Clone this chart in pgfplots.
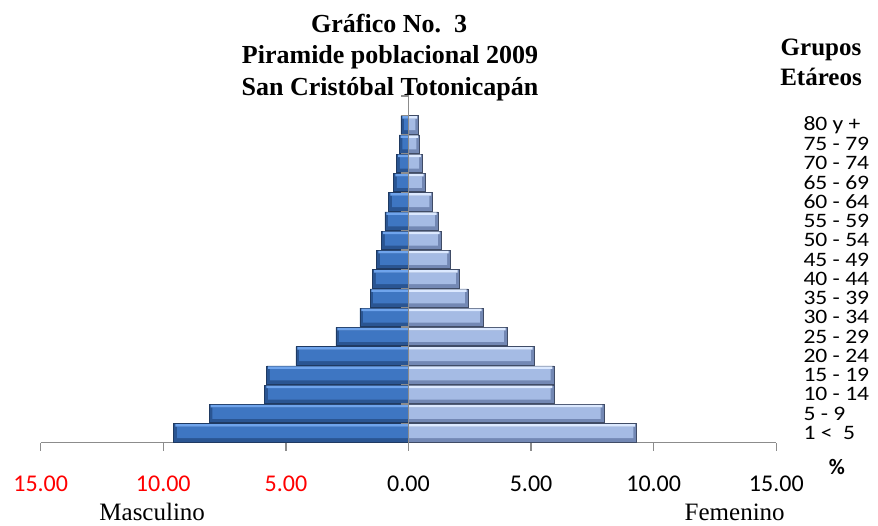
\documentclass[border=0pt]{standalone}
\usepackage{fontspec}
\usepackage{pgfplots}
\usepackage{pgfplotstable}
\pgfplotsset{compat=1.18}
\setmainfont{Liberation Serif}
\newfontfamily\carlito{Carlito}
\newfontfamily\carlitow[FakeStretch=1.15]{Carlito}
\definecolor{mtop}{HTML}{6FA4EC}
\definecolor{mface}{HTML}{3E76C2}
\definecolor{mbot}{HTML}{2A5592}
\definecolor{mborder}{HTML}{1F3A62}
\definecolor{ftop}{HTML}{DCE9FF}
\definecolor{fface}{HTML}{A5BBE4}
\definecolor{fbot}{HTML}{7388B4}
\definecolor{fborder}{HTML}{404C66}
\definecolor{axgray}{HTML}{8C8C8C}
\pgfplotstableread{
y m f
0.5 -9.57 9.30
1.5 -8.13 7.97
2.5 -5.86 5.93
3.5 -5.78 5.93
4.5 -4.59 5.12
5.5 -2.96 4.02
6.5 -1.98 3.04
7.5 -1.57 2.43
8.5 -1.46 2.06
9.5 -1.29 1.70
10.5 -1.09 1.33
11.5 -0.96 1.21
12.5 -0.80 0.98
13.5 -0.60 0.68
14.5 -0.48 0.56
15.5 -0.38 0.45
16.5 -0.31 0.41
}\pyr
\begin{document}
\begin{tikzpicture}
\path[use as bounding box] (-40.7pt,-82.5pt) rectangle (837.3pt,442.5pt);
\begin{axis}[
  at={(0pt,0pt)}, anchor=south west,
  scale only axis, width=735.6pt, height=346.5pt,
  xmin=-15, xmax=15, ymin=0, ymax=18,
  axis x line=bottom, axis y line=right,
  axis line style={-},
  x axis line style={axgray, line width=1.3pt},
  y axis line style={draw=none},
  xtick={-15,-10,-5,0,5,10,15},
  xticklabels={\textcolor{red}{15.00},\textcolor{red}{10.00},\textcolor{red}{5.00},0.00,5.00,10.00,15.00},
  xtick style={axgray, line width=1.3pt},
  tick align=outside, major tick length=8pt,
  xticklabel style={font=\carlito\fontsize{24}{24}\selectfont, anchor=base, yshift=-41pt},
  ytick={0.5,1.5,...,16.5},
  yticklabels={1 <\ \ 5,5 - 9,10 - 14,15 - 19,20 - 24,25 - 29,30 - 34,35 - 39,40 - 44,45 - 49,50 - 54,55 - 59,60 - 64,65 - 69,70 - 74,75 - 79,80 y +},
  ytick style={draw=none},
  yticklabel style={font=\carlitow\fontsize{20.5}{20.5}\selectfont, anchor=west, inner sep=0pt, xshift=19pt},
  clip=false,
  every axis plot/.append style={xbar, bar shift=0pt},
]
% male: base, face, top bevel
\addplot[bar width=0.95, fill=mbot, draw=mborder, line width=0.8pt] table[x=m, y=y] {\pyr};
\addplot[bar width=0.60, bar shift=0.03, fill=mface, draw=none] table[x expr=\thisrow{m}+0.13, y=y] {\pyr};
\addplot[bar width=0.13, bar shift=0.395, fill=mtop, draw=none] table[x expr=\thisrow{m}+0.06, y=y] {\pyr};
% female: base, face, top bevel
\addplot[bar width=0.95, fill=fbot, draw=fborder, line width=0.8pt] table[x=f, y=y] {\pyr};
\addplot[bar width=0.60, bar shift=0.03, fill=fface, draw=none] table[x expr=\thisrow{f}-0.13, y=y] {\pyr};
\addplot[bar width=0.13, bar shift=0.395, fill=ftop, draw=none] table[x expr=\thisrow{f}-0.06, y=y] {\pyr};
\draw[axgray, line width=1.6pt] (axis cs:0,0) -- (axis cs:0,18);
\pgfplotsinvokeforeach{1,...,18}{\draw[axgray, line width=1.3pt] (axis cs:0,#1) -- ++(-8pt,0pt);}
\end{axis}
\begin{scope}[every node/.style={inner sep=0pt}]
\node[anchor=base, font=\bfseries\fontsize{26}{31.5}\selectfont] at (348.5pt,409.5pt) {Gráfico No.\ \ 3};
\node[anchor=base, font=\bfseries\fontsize{26}{31.5}\selectfont] at (349.3pt,378.5pt) {Piramide poblacional 2009};
\node[anchor=base, font=\bfseries\fontsize{26}{31.5}\selectfont] at (349.3pt,346.5pt) {San Cristóbal Totonicapán};
\node[anchor=base, font=\bfseries\fontsize{25}{30}\selectfont] at (780.3pt,387pt) {Grupos};
\node[anchor=base, font=\bfseries\fontsize{25}{30}\selectfont] at (780.3pt,356.5pt) {Etáreos};
\node[font=\carlito\bfseries\fontsize{22}{22}\selectfont] at (796.3pt,-24.5pt) {\%};
\node[anchor=base, font=\fontsize{25}{30}\selectfont] at (111.5pt,-77.5pt) {Masculino};
\node[anchor=base, font=\fontsize{25}{30}\selectfont] at (694pt,-77.5pt) {Femenino};
\end{scope}
\end{tikzpicture}
\end{document}
